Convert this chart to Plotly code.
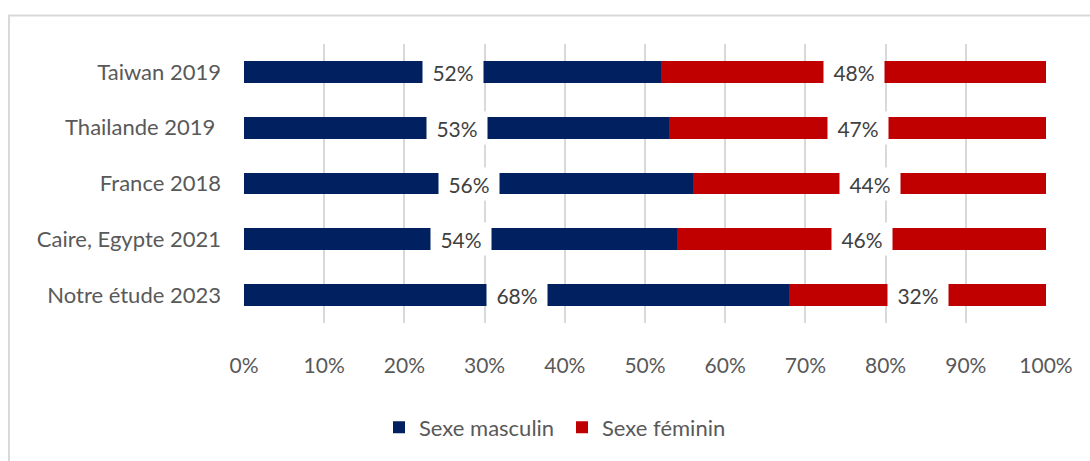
import plotly.graph_objects as go

# Studies, top to bottom
studies = ["Taiwan 2019", "Thailande 2019\u00a0", "France 2018", "Caire, Egypte 2021", "Notre étude 2023"]
male_pct = [52, 53, 56, 54, 68]
female_pct = [48, 47, 44, 46, 32]
x_ticks = [0, 10, 20, 30, 40, 50, 60, 70, 80, 90, 100]

NAVY = "#002060"
RED = "#C00000"
FONT = "Lato, 'Open Sans', sans-serif"

W, H = 1090, 461
ML, MR, MT, MB = 244, 44, 44, 134
PW, PH = W - ML - MR, H - MT - MB

fig = go.Figure()
fig.add_trace(go.Bar(
    y=studies, x=male_pct, name="Sexe masculin", orientation="h",
    marker=dict(color=NAVY, line=dict(width=0)),
))
fig.add_trace(go.Bar(
    y=studies, x=female_pct, name="Sexe féminin", orientation="h",
    marker=dict(color=RED, line=dict(width=0)),
))

# Percentage labels on white boxes centred in each segment
for s, m, f in zip(studies, male_pct, female_pct):
    for xc, val in ((m / 2, m), (m + f / 2, f)):
        fig.add_annotation(
            x=xc, y=s, xref="x", yref="y", text=f"{val}%", showarrow=False,
            bgcolor="white", width=58, height=30,
            font=dict(family=FONT, size=21, color="#404040"),
        )

def px_to_paper_x(px):
    return (px - ML) / PW

def px_to_paper_y(py):
    return (H - MB - py) / PH

# Chart frame
fig.add_shape(
    type="rect", xref="paper", yref="paper",
    x0=px_to_paper_x(9), x1=px_to_paper_x(1100),
    y0=px_to_paper_y(475), y1=px_to_paper_y(15),
    line=dict(color="#D9D9D9", width=2), fillcolor="rgba(0,0,0,0)", layer="below",
)

fig.update_layout(
    width=W, height=H,
    margin=dict(l=ML, r=MR, t=MT, b=MB),
    barmode="stack", bargap=0.61,
    plot_bgcolor="white", paper_bgcolor="white",
    font=dict(family=FONT, size=21, color="#595959"),
    showlegend=True,
    legend=dict(
        orientation="h", x=px_to_paper_x(379), xanchor="left",
        y=px_to_paper_y(433), yanchor="middle",
        font=dict(family=FONT, size=22, color="#595959"),
        itemwidth=30, traceorder="normal",
        entrywidth=138, entrywidthmode="pixels",
    ),
    xaxis=dict(
        range=[0, 100], tickvals=x_ticks, ticktext=[f"{v}%" for v in x_ticks],
        showgrid=True, gridcolor="#D9D9D9", gridwidth=1.5,
        zeroline=False, showline=False, ticks="", ticklabelstandoff=28,
        tickfont=dict(family=FONT, size=21, color="#595959"),
    ),
    yaxis=dict(
        autorange="reversed", showgrid=False, zeroline=False, showline=False,
        ticks="", ticklabelstandoff=22,
        tickfont=dict(family=FONT, size=22, color="#595959"),
    ),
)

fig.write_html("out.html")
